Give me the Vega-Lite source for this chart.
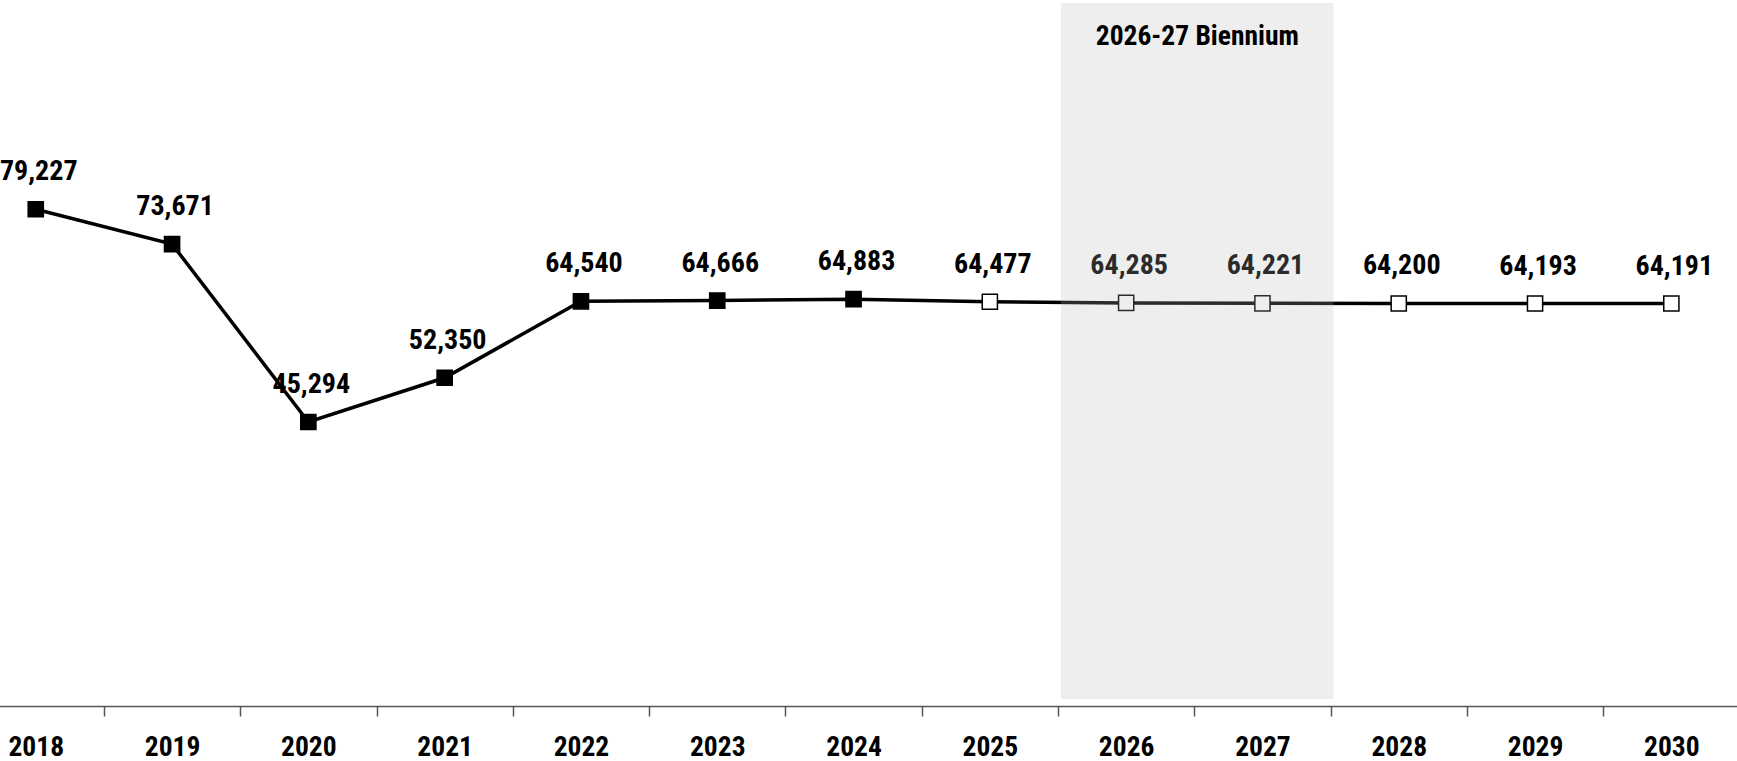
{
  "$schema": "https://vega.github.io/schema/vega-lite/v6.json",
  "width": 1737,
  "height": 706,
  "autosize": "none",
  "padding": {"top": 0, "left": 0, "right": 0, "bottom": 55},
  "background": "#ffffff",
  "config": {"view": {"stroke": null}, "font": "'Roboto Condensed', 'Liberation Sans Narrow', 'DejaVu Sans Condensed', sans-serif"},
  "datasets": {
    "enroll": [
      {"year": "2018", "value": 79227, "status": "Actual"},
      {"year": "2019", "value": 73671, "status": "Actual"},
      {"year": "2020", "value": 45294, "status": "Actual"},
      {"year": "2021", "value": 52350, "status": "Actual"},
      {"year": "2022", "value": 64540, "status": "Actual"},
      {"year": "2023", "value": 64666, "status": "Actual"},
      {"year": "2024", "value": 64883, "status": "Actual"},
      {"year": "2025", "value": 64477, "status": "Projected"},
      {"year": "2026", "value": 64285, "status": "Projected"},
      {"year": "2027", "value": 64221, "status": "Projected"},
      {"year": "2028", "value": 64200, "status": "Projected"},
      {"year": "2029", "value": 64193, "status": "Projected"},
      {"year": "2030", "value": 64191, "status": "Projected"}
    ],
    "band": [
      {"start": "2026", "end": "2027", "label": "2026-27 Biennium"}
    ]
  },
  "layer": [
    {
      "data": {"name": "enroll"},
      "mark": {"type": "line", "color": "#000000", "strokeWidth": 3.5},
      "encoding": {
        "x": {
          "field": "year", "type": "ordinal",
          "scale": {"type": "band", "range": [-32.4, 1739.5], "paddingInner": 0, "paddingOuter": 0},
          "axis": {
            "title": null, "labelAngle": 0, "grid": false, "tickBand": "extent",
            "domainColor": "#555555", "domainWidth": 1.5, "tickColor": "#555555", "tickWidth": 1.5, "tickSize": 10,
            "labelFont": "'Roboto Condensed', 'Liberation Sans Narrow', 'DejaVu Sans Condensed', sans-serif",
            "labelFontWeight": "bold", "labelFontSize": 27.5, "labelColor": "#000000",
            "labelPadding": 17
          }
        },
        "y": {
          "field": "value", "type": "quantitative",
          "scale": {"domain": [0, 112600], "nice": false, "zero": true},
          "axis": null
        }
      }
    },
    {
      "data": {"name": "enroll"},
      "mark": {"type": "point", "shape": "square", "filled": true, "size": 230, "stroke": "#000000", "strokeWidth": 1.5, "opacity": 1},
      "encoding": {
        "x": {"field": "year", "type": "ordinal"},
        "y": {"field": "value", "type": "quantitative"},
        "fill": {"field": "status", "type": "nominal", "scale": {"domain": ["Actual", "Projected"], "range": ["#000000", "#ffffff"]}, "legend": null}
      }
    },
    {
      "data": {"name": "enroll"},
      "mark": {"type": "text", "dy": -37, "dx": 3, "baseline": "middle", "align": "center", "fontSize": 28, "fontWeight": "bold", "color": "#000000"},
      "encoding": {
        "x": {"field": "year", "type": "ordinal"},
        "y": {"field": "value", "type": "quantitative"},
        "text": {"field": "value", "type": "quantitative", "format": ","}
      }
    },
    {
      "data": {"name": "band"},
      "mark": {"type": "rect", "color": "#b7b7b7", "opacity": 0.235, "xOffset": 3, "x2Offset": 3},
      "encoding": {
        "x": {"field": "start", "type": "ordinal", "bandPosition": 0},
        "x2": {"field": "end", "bandPosition": 1},
        "y": {"value": 3},
        "y2": {"value": 699}
      }
    },
    {
      "data": {"name": "band"},
      "mark": {"type": "text", "baseline": "middle", "align": "center", "fontSize": 27.5, "fontWeight": "bold", "color": "#000000", "dx": 3},
      "encoding": {
        "x": {"field": "end", "type": "ordinal", "bandPosition": 0},
        "y": {"value": 37},
        "text": {"field": "label", "type": "nominal"}
      }
    }
  ]
}
